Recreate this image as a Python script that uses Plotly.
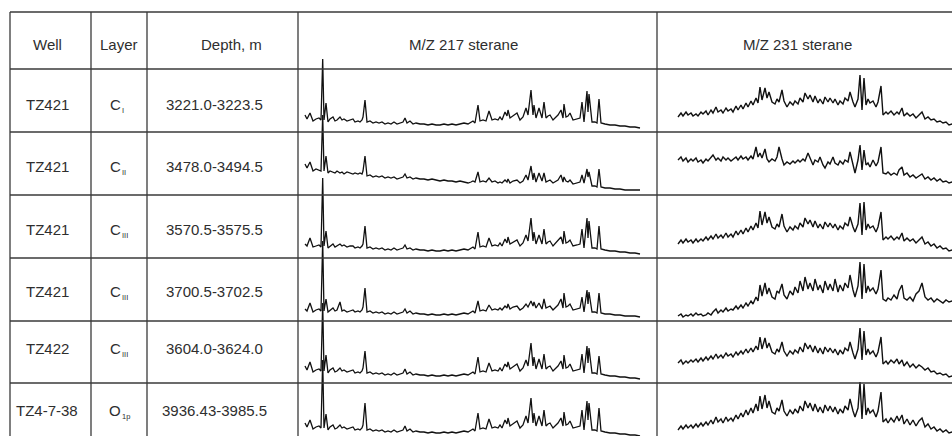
import plotly.graph_objects as go

# ---------------- data ----------------
HEADERS = ["Well", "Layer", "Depth, m", "M/Z 217 sterane", "M/Z 231 sterane"]
WELLS = ["TZ421", "TZ421", "TZ421", "TZ421", "TZ422", "TZ4-7-38"]
LAYER_MAIN = ["C", "C", "C", "C", "C", "O"]
LAYER_SUB = ["I", "II", "III", "III", "III", "1p"]
DEPTHS = ["3221.0-3223.5", "3478.0-3494.5", "3570.5-3575.5",
          "3700.5-3702.5", "3604.0-3624.0", "3936.43-3985.5"]

# relative retention (scan units) for m/z 217 chromatograms
RT_217 = [0, 2, 5, 8, 11, 14, 16, 17.7, 19, 21,
          23, 25, 28, 30, 32, 35, 37, 39, 42, 45,
          48, 50, 53, 55, 57, 58, 60, 62, 65, 68,
          71, 74, 77, 80, 83, 86, 89, 92, 95, 98,
          100, 102, 105, 108, 111, 115, 119, 123, 127, 131,
          135, 139, 143, 147, 151, 155, 159, 163, 166, 168,
          170, 173, 175, 178, 181, 184, 187, 190, 193, 195,
          197, 200, 202, 203, 205, 208, 212, 215, 218, 221,
          223, 226, 228, 229, 231, 234, 237, 239, 241, 243,
          245, 248, 251, 253, 256, 258, 259, 261, 263, 265,
          268, 272, 275, 277, 279, 282, 283, 284, 287, 290,
          292, 294, 296, 300, 305, 310, 315, 320, 325, 330,
          335]

MZ217_R1 = [17, 13, 19, 11, 13, 14, 12, 73, 12, 29,
            10, 13, 15, 11, 12, 15, 12, 13, 11, 12,
            13, 10, 11, 10, 12, 15, 32, 10, 11, 9,
            10, 9, 10, 8, 9, 8, 10, 8, 9, 10,
            14, 9, 11, 8, 9, 8, 8, 7, 8, 7,
            7, 8, 7, 8, 7, 8, 9, 8, 10, 11,
            9, 27, 11, 12, 11, 21, 12, 13, 12, 15,
            12, 20, 16, 22, 14, 16, 19, 12, 15, 24,
            17, 42, 17, 27, 14, 24, 14, 30, 14, 16,
            17, 12, 15, 17, 22, 14, 28, 15, 16, 19,
            12, 13, 14, 30, 10, 41, 20, 38, 10, 10,
            9, 33, 9, 8, 7, 7, 6, 6, 5, 5,
            4]
MZ217_R2 = [31, 27, 33, 24, 26, 25, 24, 80, 24, 39,
            22, 24, 23, 22, 24, 22, 23, 21, 23, 22, 21,
            22, 21, 22, 21, 24, 39, 19, 20, 18, 19,
            18, 19, 17, 18, 17, 18, 16, 17, 18, 21,
            17, 18, 16, 17, 16, 16, 15, 16, 15, 14,
            15, 14, 14, 13, 14, 13, 12, 13, 14, 13,
            23, 13, 14, 13, 17, 13, 14, 12, 13, 12,
            15, 13, 16, 12, 14, 15, 12, 14, 20, 15,
            29, 15, 22, 13, 22, 14, 22, 13, 14, 15,
            12, 14, 15, 20, 13, 18, 14, 13, 15, 11,
            12, 13, 20, 12, 26, 18, 23, 9, 9, 8,
            26, 8, 7, 7, 6, 6, 5, 5, 5, 5]
MZ217_R3 = [14, 12, 20, 11, 12, 13, 11, 80, 12, 27,
            10, 12, 14, 11, 12, 14, 12, 13, 11, 12,
            12, 10, 11, 10, 12, 14, 32, 10, 11, 9,
            10, 9, 10, 8, 9, 8, 10, 8, 9, 10,
            13, 9, 10, 8, 9, 8, 8, 7, 8, 7,
            7, 8, 7, 8, 7, 8, 9, 8, 10, 11,
            9, 26, 11, 12, 11, 20, 12, 13, 12, 15,
            12, 19, 15, 21, 14, 16, 18, 12, 15, 23,
            17, 40, 17, 26, 14, 23, 14, 29, 14, 16,
            17, 12, 15, 17, 21, 14, 27, 15, 16, 18,
            12, 13, 14, 29, 10, 40, 20, 37, 10, 10,
            9, 32, 9, 8, 7, 7, 6, 6, 5, 5,
            4]
MZ217_R4 = [12, 10, 18, 9, 11, 12, 10, 80, 10, 22,
            9, 11, 13, 10, 11, 19, 10, 11, 9, 10,
            11, 9, 10, 9, 11, 14, 33, 9, 10, 8,
            9, 8, 9, 7, 8, 7, 9, 7, 8, 9,
            12, 8, 10, 7, 8, 7, 7, 6, 7, 6,
            6, 7, 6, 7, 6, 7, 8, 7, 9, 10,
            8, 20, 10, 11, 10, 16, 11, 12, 11, 13,
            11, 15, 13, 17, 12, 14, 15, 11, 13, 17,
            14, 20, 15, 19, 13, 18, 12, 22, 13, 14,
            15, 11, 14, 16, 22, 13, 28, 14, 15, 17,
            11, 12, 13, 24, 9, 31, 17, 29, 9, 9,
            8, 28, 8, 7, 7, 6, 6, 5, 5, 5,
            4]
MZ217_R5 = [17, 13, 21, 11, 13, 14, 12, 80, 12, 28,
            10, 13, 15, 11, 12, 15, 12, 13, 11, 12,
            13, 10, 11, 10, 12, 15, 32, 10, 11, 9,
            10, 9, 10, 8, 9, 8, 10, 8, 9, 10,
            14, 9, 11, 8, 9, 8, 8, 7, 8, 7,
            7, 8, 7, 8, 7, 8, 9, 8, 10, 11,
            9, 26, 11, 12, 11, 20, 12, 13, 12, 15,
            12, 19, 16, 21, 14, 16, 19, 12, 15, 23,
            17, 40, 17, 26, 14, 24, 14, 29, 14, 16,
            17, 12, 15, 17, 22, 14, 28, 15, 16, 19,
            12, 13, 14, 29, 10, 37, 20, 35, 10, 10,
            9, 27, 9, 8, 7, 7, 6, 6, 5, 5,
            4]
MZ217_R6 = [23, 19, 26, 17, 19, 20, 18, 86, 18, 32,
            16, 19, 21, 17, 18, 21, 18, 19, 17, 18,
            19, 16, 17, 16, 18, 21, 43, 16, 17, 15,
            16, 15, 16, 14, 15, 14, 16, 14, 15, 16,
            20, 15, 17, 14, 15, 14, 14, 13, 14, 13,
            13, 14, 13, 14, 13, 14, 15, 14, 16, 17,
            15, 33, 17, 18, 17, 27, 18, 19, 18, 21,
            18, 26, 22, 28, 20, 22, 25, 18, 21, 30,
            23, 48, 23, 33, 20, 30, 20, 36, 20, 22,
            23, 18, 21, 23, 28, 20, 34, 21, 22, 25,
            18, 19, 20, 36, 16, 45, 26, 43, 16, 16,
            15, 38, 15, 14, 13, 13, 12, 12, 11, 11,
            10]

# relative retention (scan units) for m/z 231 chromatograms
RT_231 = [0, 3, 5, 8, 10, 13, 15, 18, 20, 23,
          25, 28, 30, 33, 35, 38, 40, 43, 45, 48,
          50, 53, 55, 58, 60, 63, 65, 68, 70, 73,
          75, 78, 80, 82, 84, 87, 89, 91, 94, 97,
          99, 101, 104, 106, 109, 112, 115, 117, 120, 122,
          125, 127, 130, 132, 135, 137, 140, 142, 145, 147,
          150, 152, 155, 157, 160, 162, 165, 167, 170, 172,
          175, 177, 180, 182, 184, 186, 188, 190, 192, 195,
          198, 200, 203, 205, 208, 210, 213, 216, 219, 221,
          224, 226, 229, 232, 235, 238, 241, 244, 247, 250,
          253, 256, 259, 262, 265, 268, 271, 274, 277, 280]

MZ231_R1 = [15, 19, 16, 20, 17, 19, 16, 18, 16, 20,
            18, 21, 17, 22, 19, 25, 20, 22, 19, 24,
            21, 23, 20, 26, 22, 27, 23, 29, 25, 31,
            27, 34, 29, 45, 32, 44, 34, 40, 30, 28,
            33, 30, 42, 31, 25, 30, 27, 31, 28, 34,
            30, 39, 33, 37, 30, 36, 29, 33, 28, 35,
            30, 34, 29, 33, 27, 31, 28, 34, 31, 40,
            30, 25, 33, 57, 22, 54, 27, 33, 29, 31,
            25, 30, 46, 17, 20, 18, 21, 17, 20, 18,
            24, 16, 19, 16, 18, 14, 17, 20, 13, 15,
            12, 13, 10, 11, 9, 10, 7, 8, 6, 7]
MZ231_R2 = [35, 38, 34, 37, 33, 36, 34, 37, 33, 35,
            32, 36, 34, 38, 40, 35, 37, 34, 38, 35,
            37, 34, 36, 38, 35, 39, 36, 38, 35, 39,
            36, 48, 38, 42, 37, 46, 36, 33, 36, 34,
            38, 48, 36, 30, 33, 31, 34, 32, 35, 33,
            36, 34, 42, 37, 30, 35, 33, 38, 30, 27,
            33, 31, 38, 32, 30, 34, 31, 35, 33, 43,
            30, 22, 35, 50, 25, 45, 30, 32, 28, 35,
            29, 33, 48, 22, 21, 23, 20, 22, 20, 25,
            28, 20, 22, 18, 20, 17, 19, 21, 16, 18,
            15, 17, 14, 16, 13, 14, 12, 13, 11, 12]
MZ231_R3 = [14, 18, 15, 19, 16, 18, 15, 19, 16, 19,
            17, 21, 18, 22, 19, 24, 20, 23, 20, 25,
            21, 24, 21, 27, 23, 28, 24, 30, 26, 32,
            28, 35, 30, 47, 33, 46, 35, 41, 31, 29,
            34, 31, 44, 32, 26, 31, 28, 32, 29, 35,
            31, 40, 34, 38, 31, 37, 30, 34, 29, 36,
            31, 35, 30, 34, 28, 32, 29, 35, 32, 41,
            31, 26, 34, 55, 23, 56, 28, 34, 30, 32,
            26, 31, 46, 18, 21, 19, 22, 18, 21, 19,
            25, 17, 20, 17, 19, 15, 18, 21, 14, 16,
            12, 14, 10, 12, 9, 10, 7, 8, 6, 7]
MZ231_R4 = [5, 7, 4, 6, 5, 7, 5, 8, 6, 7,
            5, 6, 8, 6, 9, 12, 8, 11, 9, 13,
            10, 12, 11, 15, 12, 16, 13, 18, 15, 20,
            17, 24, 20, 36, 25, 38, 27, 33, 24, 22,
            30, 28, 37, 26, 22, 30, 26, 34, 28, 40,
            30, 44, 32, 38, 30, 42, 31, 36, 28, 40,
            31, 37, 30, 42, 29, 36, 30, 38, 33, 46,
            31, 24, 35, 59, 22, 57, 28, 35, 30, 33,
            27, 32, 51, 22, 20, 23, 21, 26, 22, 30,
            36, 23, 21, 24, 20, 27, 30, 38, 24, 21,
            23, 19, 22, 20, 18, 21, 19, 20, 18, 19]
MZ231_R5 = [20, 23, 19, 22, 20, 23, 21, 24, 21, 25,
            22, 26, 23, 27, 24, 29, 25, 28, 25, 30,
            27, 29, 26, 31, 28, 32, 29, 34, 30, 35,
            31, 37, 33, 46, 34, 45, 35, 40, 31, 29,
            34, 31, 41, 32, 27, 32, 29, 33, 30, 36,
            31, 40, 34, 38, 31, 37, 30, 35, 29, 36,
            31, 35, 30, 34, 28, 33, 29, 35, 32, 41,
            30, 24, 34, 55, 23, 52, 28, 34, 29, 32,
            26, 31, 46, 19, 22, 19, 23, 20, 24, 19,
            23, 17, 21, 16, 19, 15, 18, 16, 13, 15,
            11, 12, 9, 10, 8, 9, 6, 7, 5, 6]
MZ231_R6 = [16, 20, 17, 21, 18, 21, 18, 22, 19, 23,
            20, 24, 21, 26, 22, 29, 24, 27, 23, 29,
            25, 28, 25, 31, 27, 33, 29, 36, 31, 38,
            33, 42, 35, 50, 37, 51, 38, 45, 34, 32,
            38, 35, 46, 35, 30, 36, 32, 37, 33, 40,
            35, 45, 38, 43, 35, 42, 34, 39, 33, 41,
            35, 40, 34, 39, 32, 37, 33, 40, 36, 47,
            35, 29, 38, 64, 27, 62, 31, 38, 33, 36,
            29, 35, 54, 24, 27, 23, 28, 24, 30, 25,
            31, 22, 27, 21, 26, 20, 25, 28, 19, 22,
            17, 19, 15, 17, 14, 16, 13, 14, 12, 13]

MZ217 = [MZ217_R1, MZ217_R2, MZ217_R3, MZ217_R4, MZ217_R5, MZ217_R6]
MZ231 = [MZ231_R1, MZ231_R2, MZ231_R3, MZ231_R4, MZ231_R5, MZ231_R6]

# ---------------- layout geometry (pixels) ----------------
W, H = 952, 436
COL_X = [10, 91, 147, 298, 657]
ROW_LINES = [12, 69, 132, 195, 258, 321, 383]
ROW_BOTTOMS = [132, 195, 258, 321, 383, 446]
HEADER_Y = 44.5
TEXT_Y = [104.5, 166, 229, 291, 348, 410]
HEADER_X = [47, 119, 231, 463, 797]
WELL_X, LAYER_X, DEPTH_X = 47, 122, 214
LINE_C = "#3a3a3a"
TEXT_C = "#2e2e2e"
FONT = "Liberation Sans, Arial, Helvetica, sans-serif"
FS = 15
SUB_FS = 7.5
HEADROOM = 95


def px(x):
    return x / W


def py(y):
    return 1 - y / H


fig = go.Figure()
layout_axes = {}
ax_i = 0
for r in range(6):
    b = ROW_BOTTOMS[r]
    vis_bottom = min(b, H)
    top = max(b - HEADROOM, 0)
    for kind in (217, 231):
        ax_i += 1
        sfx = "" if ax_i == 1 else str(ax_i)
        if kind == 217:
            xd = [px(COL_X[3]), px(COL_X[4])]
            xr = [COL_X[3] - 305, COL_X[4] - 305]
            xs, ys = RT_217, MZ217[r]
            lw = 1.3
        else:
            xd = [px(COL_X[4]), 1.0]
            xr = [COL_X[4] - 678, W - 678]
            xs, ys = RT_231, MZ231[r]
            lw = 1.4
        layout_axes["xaxis" + sfx] = dict(domain=xd, range=xr, visible=False,
                                          fixedrange=True, anchor="y" + sfx)
        layout_axes["yaxis" + sfx] = dict(domain=[py(vis_bottom), py(top)],
                                          range=[b - vis_bottom, b - top],
                                          visible=False, fixedrange=True,
                                          anchor="x" + sfx)
        fig.add_trace(go.Scatter(x=xs, y=ys, mode="lines",
                                 line=dict(color="#111111", width=lw),
                                 xaxis="x" + sfx, yaxis="y" + sfx,
                                 hoverinfo="skip", showlegend=False))

shapes = []
for y in ROW_LINES:
    shapes.append(dict(type="line", xref="paper", yref="paper",
                       x0=px(COL_X[0]), x1=1.0, y0=py(y), y1=py(y),
                       line=dict(color=LINE_C, width=1.3)))
for x in COL_X:
    shapes.append(dict(type="line", xref="paper", yref="paper",
                       x0=px(x), x1=px(x), y0=py(ROW_LINES[0]), y1=0,
                       line=dict(color=LINE_C, width=1.3)))


def note(text, x, y, size, anchor="center", pad=1):
    return dict(text=text, x=px(x), y=py(y), xref="paper", yref="paper",
                showarrow=False, xanchor=anchor, yanchor="middle", borderpad=pad,
                font=dict(family=FONT, size=size, color=TEXT_C))


ann = []
for h, hx in zip(HEADERS, HEADER_X):
    ann.append(note(h, hx, HEADER_Y, FS))
for r in range(6):
    ty = TEXT_Y[r]
    ann.append(note(WELLS[r], WELL_X, ty, FS))
    ann.append(note(LAYER_MAIN[r], LAYER_X, ty, FS, "right", 0))
    ann.append(note(LAYER_SUB[r], LAYER_X - 0.5, ty + 6, SUB_FS, "left", 0))
    ann.append(note(DEPTHS[r], DEPTH_X, ty, FS))

fig.update_layout(width=W, height=H, margin=dict(l=0, r=0, t=0, b=0),
                  paper_bgcolor="white", plot_bgcolor="rgba(0,0,0,0)",
                  shapes=shapes, annotations=ann, showlegend=False,
                  **layout_axes)
fig.write_html("out.html", config={"displayModeBar": False})
